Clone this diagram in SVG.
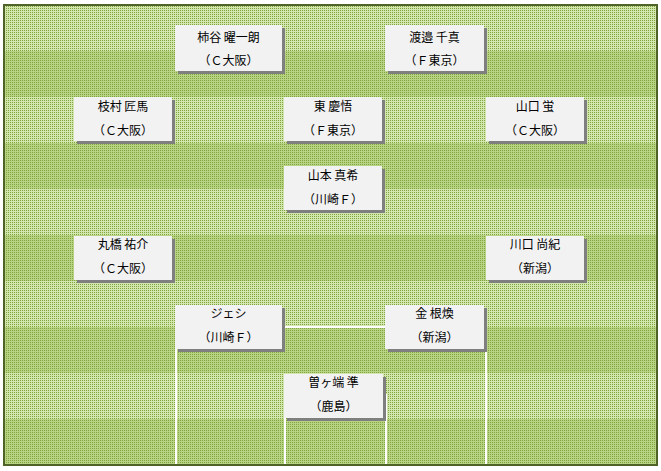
<svg xmlns="http://www.w3.org/2000/svg" width="661" height="471" viewBox="0 0 661 471">
<defs>
<pattern id="dots" x="0" y="0" width="2" height="2" patternUnits="userSpaceOnUse">
<rect x="0" y="0" width="1" height="1" fill="#7fa63e"/>
</pattern>
<style>
.lt{fill:#d3e6ad}
.dk{fill:#b7d383}
.line{stroke:#ffffff;stroke-width:2;fill:none}
.sh{fill:#7f7f7f}
.bx{fill:#f2f2f2}
text{font-family:"Noto Sans CJK JP","Noto Sans",sans-serif;font-size:12px;fill:#000;text-anchor:middle}
</style>
</defs>
<rect width="661" height="471" fill="#ffffff"/>
<g id="field">
<rect class="lt" x="4" y="5" width="653" height="46"/>
<rect class="dk" x="4" y="51" width="653" height="46"/>
<rect class="lt" x="4" y="97" width="653" height="46"/>
<rect class="dk" x="4" y="143" width="653" height="46"/>
<rect class="lt" x="4" y="189" width="653" height="46"/>
<rect class="dk" x="4" y="235" width="653" height="46"/>
<rect class="lt" x="4" y="281" width="653" height="46"/>
<rect class="dk" x="4" y="327" width="653" height="46"/>
<rect class="lt" x="4" y="373" width="653" height="46"/>
<rect class="dk" x="4" y="419" width="653" height="46"/>
<rect x="4" y="5" width="653" height="460" fill="url(#dots)"/>
<path class="line" d="M176,465 V327 H486 V465"/>
<path class="line" d="M285,465 V395 H386 V465"/>
<rect x="4" y="5" width="653" height="460" fill="none" stroke="#4f6228" stroke-width="2"/>
</g>
<g id="connectors"></g>
<g id="kakitani">
<rect class="sh" x="178" y="28" width="107" height="46"/>
<rect class="bx" x="175" y="25" width="107" height="46"/>
<text x="228.5" y="42">柿谷 曜一朗</text>
<text x="228.5" y="65">（Ｃ大阪）</text>
</g>
<g id="watanabe">
<rect class="sh" x="388" y="28" width="99" height="46"/>
<rect class="bx" x="385" y="25" width="99" height="46"/>
<text x="434.5" y="42">渡邉 千真</text>
<text x="434.5" y="65">（Ｆ東京）</text>
</g>
<g id="edamura">
<rect class="sh" x="77" y="100" width="98" height="44"/>
<rect class="bx" x="74" y="97" width="98" height="44"/>
<text x="123" y="111">枝村 匠馬</text>
<text x="123" y="135">（Ｃ大阪）</text>
</g>
<g id="higashi">
<rect class="sh" x="287" y="100" width="98" height="44"/>
<rect class="bx" x="284" y="97" width="98" height="44"/>
<text x="333" y="111">東 慶悟</text>
<text x="333" y="135">（Ｆ東京）</text>
</g>
<g id="yamaguchi">
<rect class="sh" x="489" y="100" width="98" height="44"/>
<rect class="bx" x="486" y="97" width="98" height="44"/>
<text x="535" y="111">山口 蛍</text>
<text x="535" y="135">（Ｃ大阪）</text>
</g>
<g id="yamamoto">
<rect class="sh" x="287" y="169" width="98" height="44"/>
<rect class="bx" x="284" y="166" width="98" height="44"/>
<text x="333" y="180">山本 真希</text>
<text x="333" y="204">（川崎Ｆ）</text>
</g>
<g id="maruhashi">
<rect class="sh" x="77" y="239" width="98" height="44"/>
<rect class="bx" x="74" y="236" width="98" height="44"/>
<text x="123" y="249">丸橋 祐介</text>
<text x="123" y="273">（Ｃ大阪）</text>
</g>
<g id="kawaguchi">
<rect class="sh" x="489" y="239" width="98" height="44"/>
<rect class="bx" x="486" y="236" width="98" height="44"/>
<text x="535" y="249">川口 尚紀</text>
<text x="535" y="273">（新潟）</text>
</g>
<g id="jeci">
<rect class="sh" x="178" y="308" width="107" height="44"/>
<rect class="bx" x="175" y="305" width="107" height="44"/>
<text x="228.5" y="318">ジェシ</text>
<text x="228.5" y="342">（川崎Ｆ）</text>
</g>
<g id="kim">
<rect class="sh" x="388" y="308" width="99" height="44"/>
<rect class="bx" x="385" y="305" width="99" height="44"/>
<text x="434.5" y="318">金 根煥</text>
<text x="434.5" y="342">（新潟）</text>
</g>
<g id="sogahata">
<rect class="sh" x="287" y="377" width="99" height="44"/>
<rect class="bx" x="284" y="374" width="99" height="44"/>
<text x="333.5" y="387">曽ヶ端 準</text>
<text x="333.5" y="411">（鹿島）</text>
</g>
</svg>
